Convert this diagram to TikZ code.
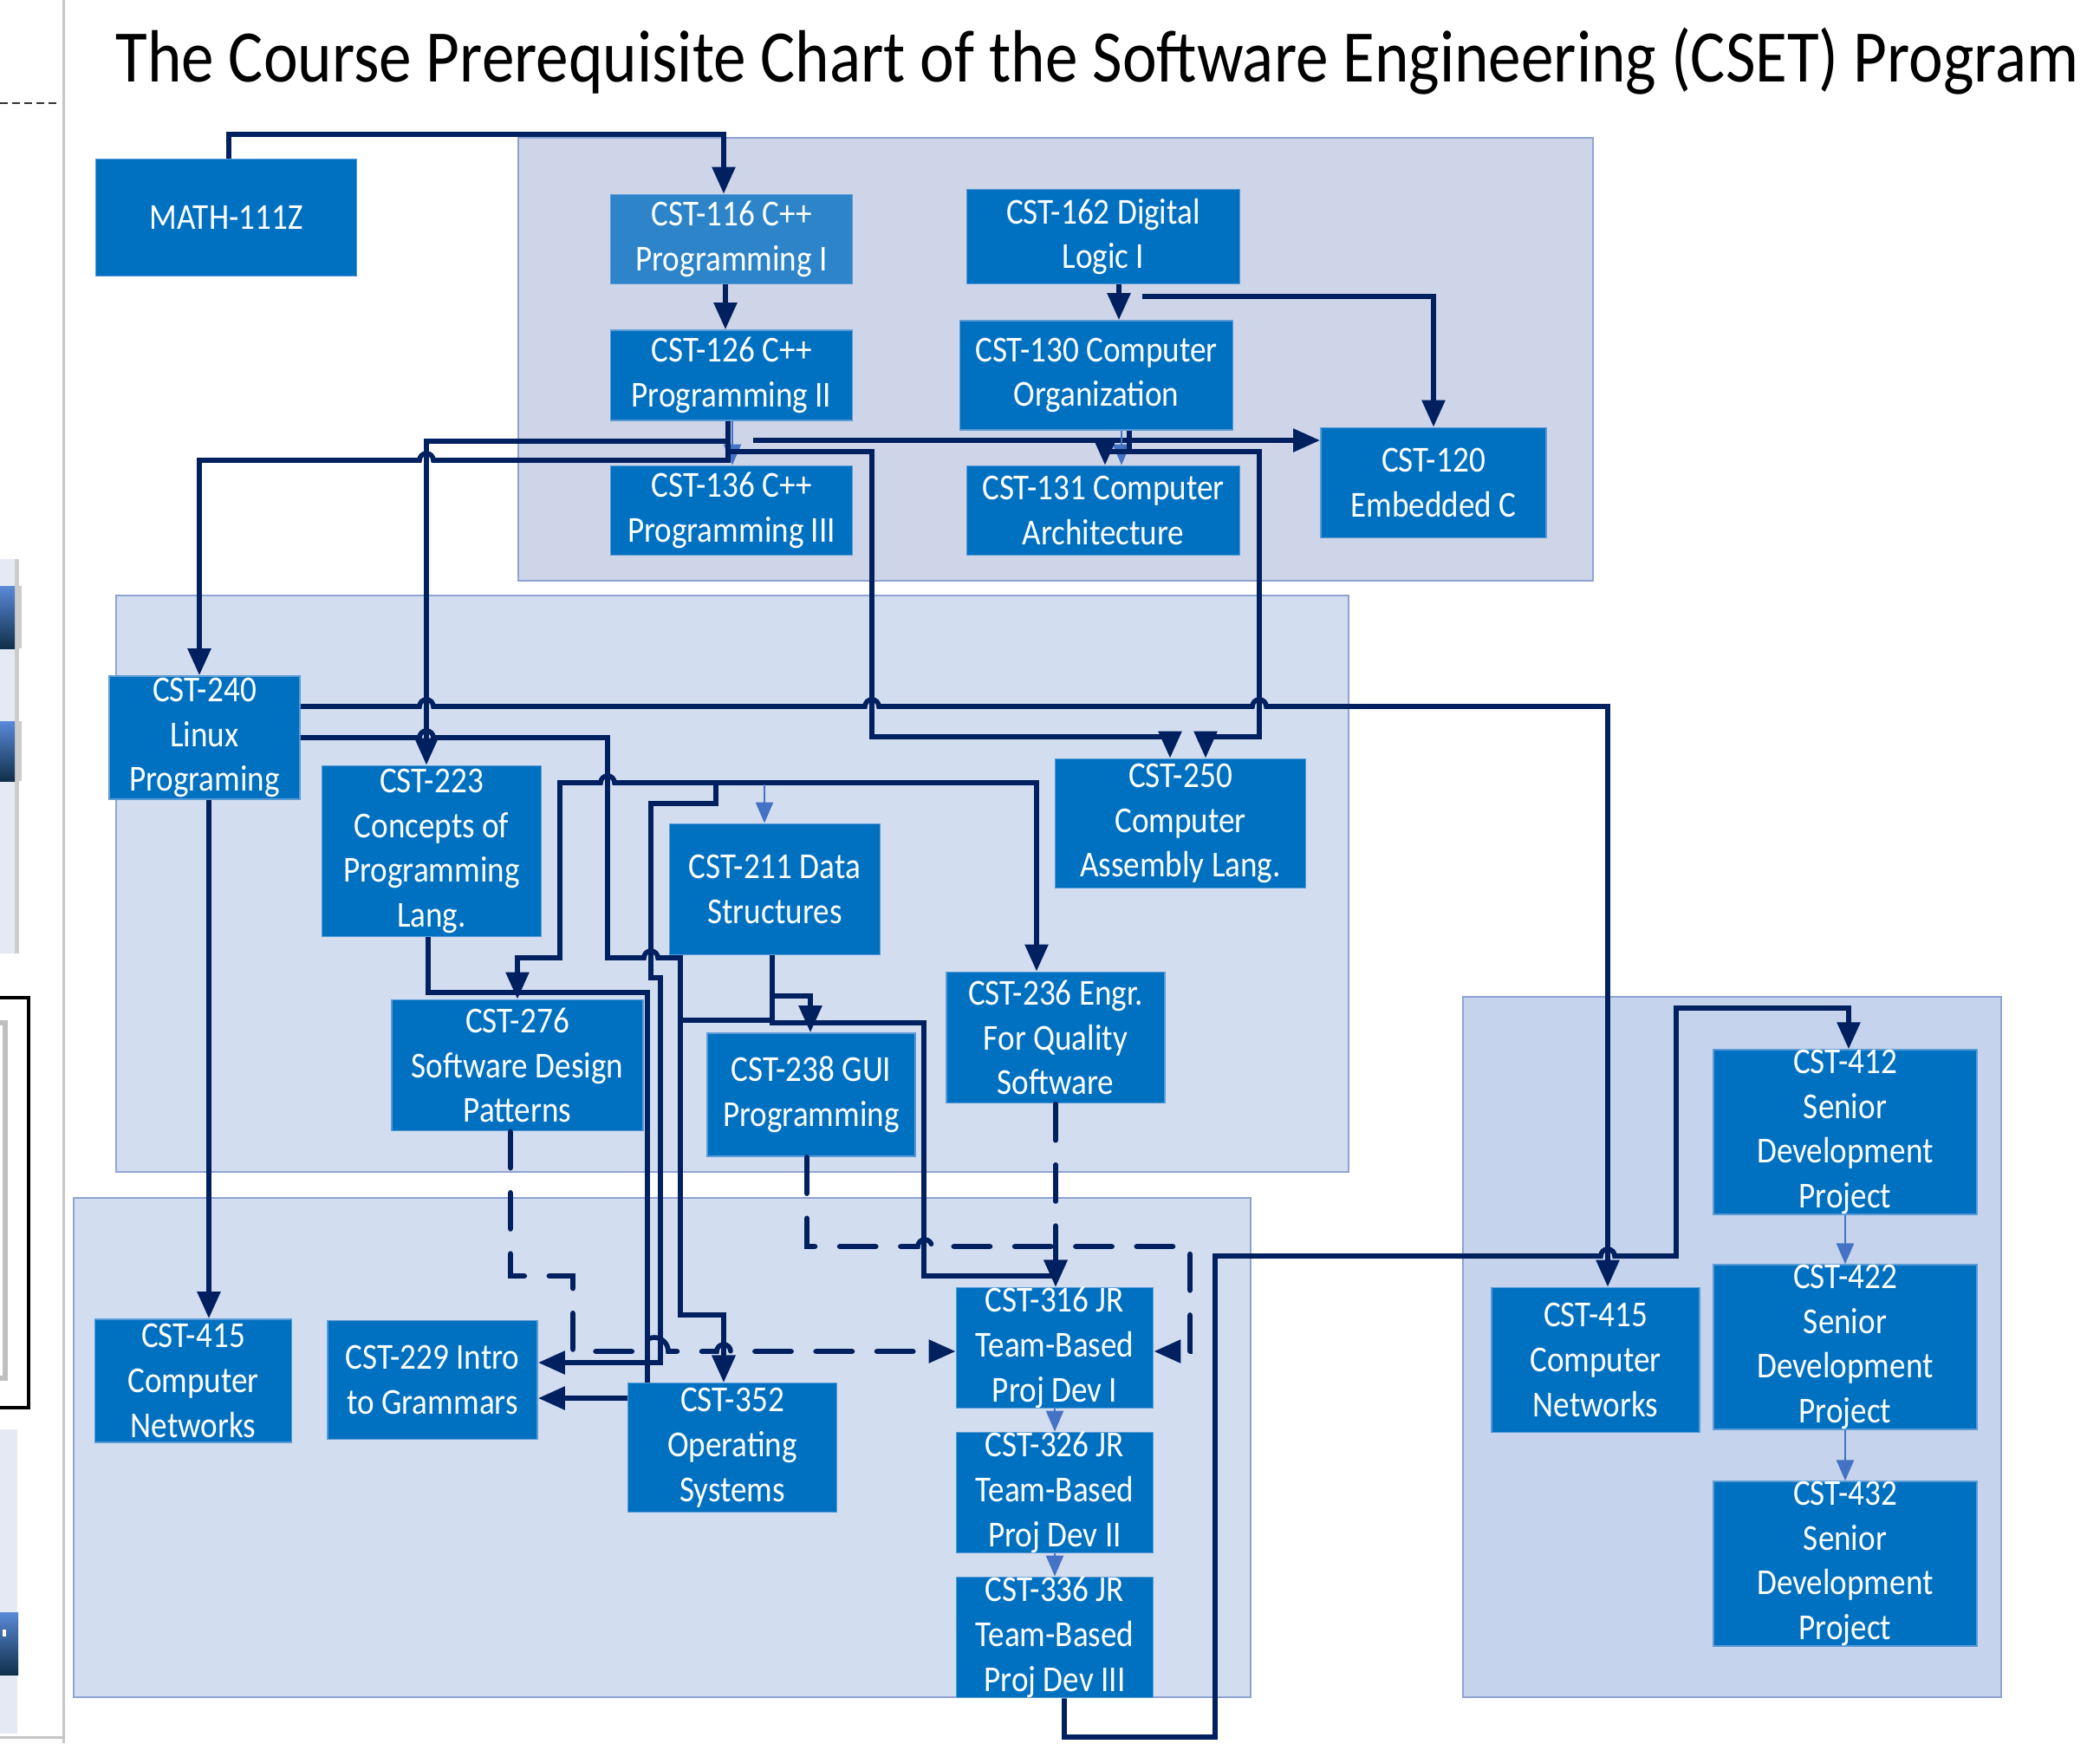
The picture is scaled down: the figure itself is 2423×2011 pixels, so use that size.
\documentclass[tikz,border=0pt]{standalone}
\usepackage{fontspec}
\setmainfont{Carlito}[FakeStretch=0.88]
\usetikzlibrary{arrows.meta}

\definecolor{boxblue}{HTML}{0070C0}
\definecolor{boxlight}{HTML}{2E84C9}
\definecolor{boxedge}{HTML}{5B9BD5}
\definecolor{navy}{HTML}{002060}
\definecolor{lightarrow}{HTML}{4472C4}
\definecolor{paneltop}{HTML}{CFD5E8}
\definecolor{panelmid}{HTML}{D3DDF0}
\definecolor{panelright}{HTML}{C5D3EC}
\definecolor{paneledge}{HTML}{8FA3D3}
\definecolor{sidepanel}{HTML}{E4E9F4}
\definecolor{btntop}{HTML}{5A8AD8}
\definecolor{btnbottom}{HTML}{10304A}

\tikzset{
  course/.style={rectangle, fill=boxblue, draw=boxedge, line width=0.5pt, text=white,
    align=center, inner sep=0pt, font=\fontsize{12}{14.7}\selectfont},
  prereq/.style={draw=navy, line width=1.6pt, >={Triangle[length=0.31cm,width=0.26cm]}, ->},
  coreq/.style={prereq, dash pattern=on 12pt off 8pt, line cap=round},
  seq/.style={draw=lightarrow, line width=0.7pt, >={Triangle[length=0.24cm,width=0.2cm]}, ->},
  panel/.style={draw=paneledge, line width=0.5pt},
  button/.style={top color=btntop, bottom color=btnbottom},
}

\begin{document}
\begin{tikzpicture}[x=0.01cm, y=-0.01cm]
  \useasboundingbox (0,0) rectangle (2423,2011);
  \fill[white] (0,0) rectangle (2423,2011);

  % window edge on the left
  \fill[gray!45] (72,0) rectangle (75,2011);
  \fill[gray!45] (0,2003) rectangle (75,2006);
  \draw[black!80, line width=0.6pt, dash pattern=on 2.5pt off 1.5pt] (0,119) -- (70,119);
  \fill[sidepanel] (0,645) rectangle (20,1100);
  \fill[gray!40] (17,645) rectangle (22,1100);
  \fill[gray!40] (17,676) rectangle (25,748);
  \shade[button] (0,676) rectangle (17,748);
  \fill[gray!40] (17,832) rectangle (25,901);
  \shade[button] (0,832) rectangle (17,901);
  \draw[black, line width=1pt] (-5,1151) rectangle (33,1624);
  \draw[gray!50, line width=1.5pt] (-5,1180) rectangle (6,1590);
  \fill[sidepanel] (0,1649) rectangle (20,2000);
  \shade[button] (0,1860) rectangle (21,1932);
  \fill[white] (3,1880) rectangle (7,1888);

  % groups
  \draw[panel, fill=paneltop] (598,159) rectangle (1838,670);
  \draw[panel, fill=panelmid] (134,687) rectangle (1556,1352);
  \draw[panel, fill=panelmid] (85,1382) rectangle (1443,1958);
  \draw[panel, fill=panelright] (1688,1150) rectangle (2309,1958);

  \node (title) at (121,94) [anchor=base west, font=\fontsize{24.3}{29}\selectfont]
    {The Course Prerequisite Chart of the Software Engineering (CSET) Program};

  % courses
  \node (nmath) at (261,251) [course, minimum width=3.01cm, minimum height=1.35cm] {MATH-111Z};
  \node (n116) at (844,276) [course, fill=boxlight, minimum width=2.79cm, minimum height=1.03cm] {CST-116 C++\\Programming I};
  \node (n126) at (844,433) [course, minimum width=2.79cm, minimum height=1.04cm] {CST-126 C++\\Programming II};
  \node (n136) at (844,589) [course, minimum width=2.79cm, minimum height=1.03cm] {CST-136 C++\\Programming III};
  \node (n162) at (1273,273) [course, minimum width=3.15cm, minimum height=1.09cm] {CST-162 Digital\\Logic I};
  \node (n130) at (1265,433) [course, minimum width=3.15cm, minimum height=1.26cm] {CST-130 Computer\\Organization};
  \node (n131) at (1273,589) [course, minimum width=3.15cm, minimum height=1.03cm] {CST-131 Computer\\Architecture};
  \node (n120) at (1654,557) [course, minimum width=2.60cm, minimum height=1.27cm] {CST-120\\Embedded C};

  \node (n240) at (236,851) [course, minimum width=2.20cm, minimum height=1.42cm] {CST-240\\Linux\\Programing};
  \node (n223) at (498,982) [course, minimum width=2.53cm, minimum height=1.97cm] {CST-223\\Concepts of\\Programming\\Lang.};
  \node (n276) at (597,1229) [course, minimum width=2.90cm, minimum height=1.51cm] {CST-276\\Software Design\\Patterns};
  \node (n211) at (894,1026) [course, minimum width=2.43cm, minimum height=1.51cm] {CST-211 Data\\Structures};
  \node (n238) at (936,1263) [course, minimum width=2.40cm, minimum height=1.42cm] {CST-238 GUI\\Programming};
  \node (n236) at (1218,1197) [course, minimum width=2.52cm, minimum height=1.51cm] {CST-236 Engr.\\For Quality\\Software};
  \node (n250) at (1362,950) [course, minimum width=2.89cm, minimum height=1.49cm] {CST-250\\Computer\\Assembly Lang.};

  \node (n415a) at (223,1593) [course, minimum width=2.27cm, minimum height=1.42cm] {CST-415\\Computer\\Networks};
  \node (n229) at (499,1592) [course, minimum width=2.42cm, minimum height=1.37cm] {CST-229 Intro\\to Grammars};
  \node (n352) at (845,1670) [course, minimum width=2.41cm, minimum height=1.49cm] {CST-352\\Operating\\Systems};
  \node (n316) at (1217,1555) [course, minimum width=2.27cm, minimum height=1.38cm] {CST-316 JR\\Team-Based\\Proj Dev I};
  \node (n326) at (1217,1722) [course, minimum width=2.27cm, minimum height=1.37cm] {CST-326 JR\\Team-Based\\Proj Dev II};
  \node (n336) at (1217,1889) [course, minimum width=2.27cm, minimum height=1.36cm] {CST-336 JR\\Team-Based\\Proj Dev III};

  \node (n415b) at (1841,1569) [course, minimum width=2.40cm, minimum height=1.67cm] {CST-415\\Computer\\Networks};
  \node (n412) at (2129,1306) [course, minimum width=3.04cm, minimum height=1.89cm] {CST-412\\Senior\\Development\\Project};
  \node (n422) at (2129,1554) [course, minimum width=3.04cm, minimum height=1.89cm] {CST-422\\Senior\\Development\\Project};
  \node (n432) at (2129,1804) [course, minimum width=3.04cm, minimum height=1.89cm] {CST-432\\Senior\\Development\\Project};

  \coordinate (b162) at (1318,342);
  \coordinate (b126) at (869,508);
  \coordinate (busE) at (826,903);
  \coordinate (bus211) at (882,905);

  % top group
  \draw[prereq] (nmath.north -| 264,0) -- (264,155) -- (835,155) -- (n116.north -| 835,0);
  \draw[prereq] (n116.south -| 837,0) -- (n126.north -| 837,0);
  \draw[prereq] (n162.south -| 1291,0) -- (n130.north -| 1291,0);
  \draw[prereq] (b162) -- (1654,342) -- (n120.north);
  \draw[prereq] (b126) -- (n120.west |- 0,508);
  \draw[seq] (n126.south -| 845,0) -- (n136.north -| 845,0);
  \draw[seq] (n130.south -| 1294,0) -- (n131.north -| 1294,0);
  \draw[prereq] (n130.south -| 1303,0) -- (1303,521) -- (1275,521) -- (n131.north -| 1275,0);

  % from CST-126 and CST-130 downwards
  \draw[prereq] (n126.south -| 840,0) -- (840,509) -- (492,509) -- (n223.north -| 492,0);
  \draw[prereq] (n126.south -| 840,0) -- (840,531) -- (500,531)
    arc[start angle=0, end angle=180, radius=0.08cm] -- (230,531) -- (n240.north -| 230,0);
  \draw[prereq] (n126.south -| 840,0) -- (840,521) -- (1006,521) -- (1006,850) -- (1350,850) -- (n250.north -| 1350,0);
  \draw[prereq] (n130.south -| 1303,0) -- (1303,521) -- (1453,521) -- (1453,850) -- (1391,850) -- (n250.north -| 1391,0);

  % from CST-240
  \draw[prereq] (n240.east |- 0,815) -- (484,815) arc[start angle=180, end angle=0, radius=0.08cm]
    -- (998,815) arc[start angle=180, end angle=0, radius=0.08cm]
    -- (1445,815) arc[start angle=180, end angle=0, radius=0.08cm]
    -- (1855,815) -- (n415b.north -| 1855,0);
  \draw[prereq] (n240.east |- 0,851) -- (484,851) arc[start angle=180, end angle=0, radius=0.08cm]
    -- (701,851) -- (701,1105) -- (743,1105) arc[start angle=180, end angle=0, radius=0.08cm]
    -- (785,1105) -- (785,1517) -- (835,1517) -- (n352.north -| 835,0);
  \draw[prereq] (n240.south -| 241,0) -- (n415a.north -| 241,0);

  % middle bus
  \draw[prereq, <->] (n276.north -| 597,0) -- (597,1105) -- (646,1105) -- (646,903) -- (693,903)
    arc[start angle=180, end angle=0, radius=0.08cm] -- (1196,903) -- (n236.north -| 1196,0);
  \draw[prereq] (busE) -- (826,927) -- (751,927) -- (751,1128) -- (762,1128) -- (762,1572) -- (n229.east |- 0,1572);
  \draw[seq] (bus211) -- (n211.north -| 882,0);

  % middle group to lower group
  \draw[prereq, -] (n223.south -| 494,0) -- (494,1145) -- (747,1145) -- (747,1572) -- (n352.north -| 747,0);
  \draw[prereq] (n352.west |- 0,1613) -- (n229.east |- 0,1613);
  \draw[prereq] (n211.south -| 891,0) -- (891,1177) -- (785,1177) -- (785,1517) -- (835,1517) -- (n352.north -| 835,0);
  \draw[prereq] (n211.south -| 891,0) -- (891,1180) -- (1066,1180) -- (1066,1472) -- (1218,1472) -- (n316.north -| 1218,0);
  \draw[prereq] (n211.south -| 891,0) -- (891,1149) -- (935,1149) -- (n238.north -| 935,0);

  % co-requisites
  \draw[coreq] (n276.south -| 589,0) -- (589,1472) -- (661,1472) -- (661,1559) -- (739,1559)
    arc[start angle=180, end angle=0, radius=0.16cm] -- (827,1559)
    arc[start angle=180, end angle=0, radius=0.08cm] -- (n316.west |- 0,1559);
  \draw[coreq] (n238.south -| 931,0) -- (931,1438) -- (1059,1438)
    arc[start angle=180, end angle=0, radius=0.08cm] -- (1373,1438) -- (1373,1559) -- (n316.east |- 0,1559);
  \draw[coreq] (n236.south -| 1218,0) -- (n316.north -| 1218,0);

  % junior and senior sequence
  \draw[seq] (n316.south) -- (n326.north);
  \draw[seq] (n326.south) -- (n336.north);
  \draw[prereq] (n336.south -| 1228,0) -- (1228,2004) -- (1402,2004) -- (1402,1449) -- (1847,1449)
    arc[start angle=180, end angle=0, radius=0.08cm] -- (1934,1449) -- (1934,1163) -- (2133,1163) -- (n412.north -| 2133,0);
  \draw[seq] (n412.south) -- (n422.north);
  \draw[seq] (n422.south) -- (n432.north);
\end{tikzpicture}
\end{document}
